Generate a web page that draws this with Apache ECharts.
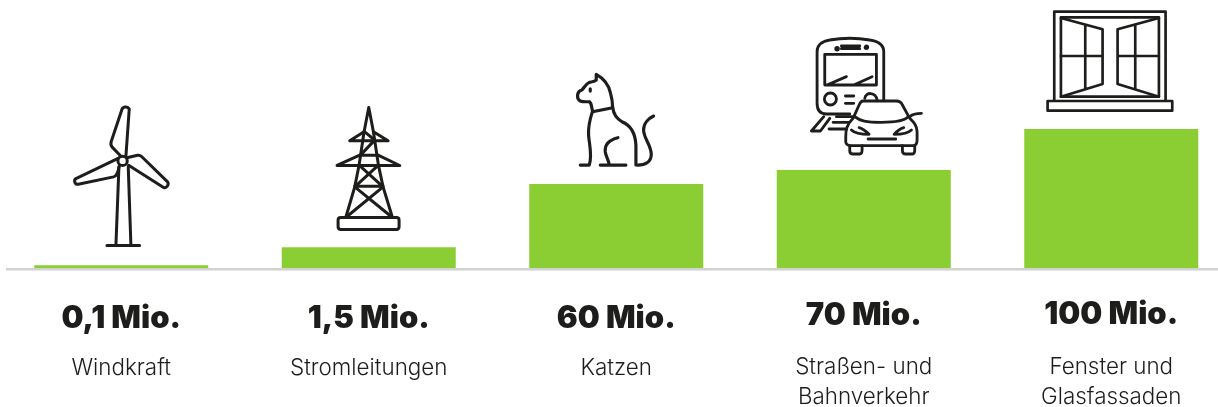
<!DOCTYPE html>
<html>
<head>
<meta charset="utf-8">
<style>html,body{margin:0;padding:0;background:#fff}#c{width:1218px;height:407px}</style>
<script src="https://cdn.jsdelivr.net/npm/echarts@6/dist/echarts.min.js"></script>
</head>
<body>
<div id="c"></div>
<script>
const categories = ['Windkraft', 'Stromleitungen', 'Katzen', 'Straßen- und\nBahnverkehr', 'Fenster und\nGlasfassaden'];
const valueLabels = ['0,1 Mio.', '1,5 Mio.', '60 Mio.', '70 Mio.', '100 Mio.'];
// Bar heights as drawn in the picture (the two smallest bars are drawn larger than their stated values).
const barValues = [2, 15, 60.4, 70.5, 100];
const valueLabelShift = [0, 0, 0, -3, -4];

const INK = '#1d1d1b', GREEN = '#8bce33', AXIS = '#d2d2d0';
const VALUE_FONT = 'Inter', NAME_FONT = 'Inter';

// Icons: paths in a 3x drawing space; origin places them relative to (bar centre, bar top).
const icons = [
  { origin: [-61, -165], lw: 9, parts: [
    { d: 'M187 168a14 14 0 1 0 0.01 0Z' },
    { d: 'M180 166L155 140C151 135 151 130 153 124L185 28C187 20 200 17 207 26L197 168' },
    { d: 'M203 172L232 165C238 164 241 166 244 169L322 245C327 252 320 265 310 262L205 195' },
    { d: 'M172 175L47 235C40 240 43 254 54 252L160 230C168 228 172 222 177 198' },
    { d: 'M176 200L167 435M204 200L212 435M140 436L238 436' }
  ]},
  { origin: [-49, -147], lw: 9, parts: [
    { d: 'M147 22L133 95L118 195L105 260L78 352M147 22L161 95L176 195L190 260L218 352' },
    { d: 'M90 122L205 122M90 122L133 95M205 122L161 95M135 95L165 120M165 120L122 165' },
    { d: 'M52 196L240 196M52 196L120 165M240 196L175 165M120 165L176 165' },
    { d: 'M118 195L190 260M176 195L105 260M105 258L190 258M105 260L218 352M190 260L78 352M78 352L218 352' },
    { d: 'M63 352L230 352C236 352 238 356 238 360L238 380C238 385 235 388 230 388L63 388C58 388 55 385 55 380L55 360C55 356 58 352 63 352Z' }
  ]},
  { origin: [-51, -119], lw: 9.5, parts: [
    { d: 'M45 300L72 300C82 270 72 240 70 210C68 180 75 160 82 138C78 125 80 115 72 110C62 110 52 111 45 108C32 100 35 78 50 75C58 66 62 56 72 52C80 50 88 50 93 45L93 28C115 40 130 55 136 85C140 100 142 112 142 125C145 150 155 160 170 170C195 180 210 200 212 240L212 300C240 302 258 290 258 268C258 240 235 220 235 195C235 175 250 160 265 153' },
    { d: 'M82 140L142 128M158 218C130 225 118 240 120 260C122 275 130 285 132 298M105 300L182 300M75 71L75 78' }
  ]},
  { origin: [-64, -135], lw: 8.5, parts: [
    { d: 'M35 288L72 245M35 288L62 288L90 250M110 245L165 245M100 262L160 262M88 282L140 282' },
    { d: 'M252 195L252 50C252 25 230 18 210 15C170 8 130 8 90 15C75 17 52 25 52 50L52 205C52 225 60 237 80 237L150 237', fill: '#fff' },
    { d: 'M75 58L230 58L230 150L75 150ZM82 150L140 125M162 150L217 125M125 33L180 33M125 41L180 41' },
    { d: 'M112 37a4 4 0 1 0 0.01 0ZM200 33a4 4 0 1 0 0.01 0ZM92 174a18 18 0 1 0 0.01 0Z', },
    { d: 'M137 183L162 183M137 205L162 205M195 190C198 170 228 170 232 195' },
    { d: 'M190 198L290 198C298 198 305 203 308 210L330 250C342 262 352 272 352 290L352 315C352 325 350 332 340 332L150 332C145 332 138 327 138 320L138 305C138 285 140 270 160 250L178 210C181 203 185 198 190 198Z', fill: '#fff' },
    { d: 'M165 245C180 258 200 262 245 262C290 262 315 258 325 245M330 245C338 237 345 235 365 235' },
    { d: 'M155 285C165 295 190 298 208 298C195 285 185 280 178 278M335 285C325 295 300 298 283 298C295 285 305 280 312 278M205 312L288 312' },
    { d: 'M150 332L150 347C150 355 155 357 160 357L180 357C185 357 187 352 187 345L187 332M308 332L308 347C308 355 313 357 318 357L338 357C343 357 345 352 345 345L345 332' }
  ]},
  { origin: [-101, -129], lw: 8, parts: [
    { d: 'M132 302L132 35L466 35L466 302' },
    { d: 'M152 52L446 52L446 290L152 290Z' },
    { d: 'M112 303L486 303L486 332L112 332Z' },
    { d: 'M152 54L277 88L277 252L152 290M225 75L225 268M152 168L277 168' },
    { d: 'M446 54L322 88L322 252L446 290M375 75L375 268M322 168L446 168' }
  ]}
];
icons.forEach((ic, i) => ic.parts.forEach((p, j) => {
  p.type = 'icon' + i + '_' + j;
  echarts.graphic.registerShape(p.type, echarts.graphic.extendPath(p.d));
}));

const chart = echarts.init(document.getElementById('c'), null, { renderer: 'canvas' });

function renderIconAndValue(params, api) {
  const i = api.value(0);
  const top = api.coord([i, api.value(1)]);
  const base = api.coord([i, 0]);
  const ic = icons[i];
  const children = ic.parts.map(p => ({
    type: p.type,
    shape: {},
    style: { fill: p.fill || 'none', stroke: INK, lineWidth: ic.lw, lineCap: 'round', lineJoin: 'round' }
  }));
  return {
    type: 'group',
    children: [
      { type: 'group', x: top[0] + ic.origin[0], y: top[1] + ic.origin[1], scaleX: 1 / 3, scaleY: 1 / 3, children },
      { type: 'text', style: {
          text: valueLabels[i], x: base[0], y: base[1] + 50.5 + valueLabelShift[i],
          align: 'center', verticalAlign: 'middle',
          fontFamily: VALUE_FONT, fontWeight: 900, fontSize: 31, fill: INK } }
    ]
  };
}

chart.setOption({
  animation: false,
  backgroundColor: '#fff',
  grid: { left: -2.5, width: 1237.5, top: 129, height: 139, containLabel: false, outerBoundsMode: 'none' },
  xAxis: {
    type: 'category',
    data: categories,
    axisLine: { show: false },
    axisTick: { show: false },
    axisLabel: {
      interval: 0, margin: 84, verticalAlign: 'top', align: 'center',
      formatter: v => v.includes('\n')
        ? v.split('\n').map(s => '{two|' + s + '}').join('\n')
        : '{one|' + v + '}',
      rich: {
        one: { fontFamily: NAME_FONT, fontWeight: 300, fontSize: 22.4, lineHeight: 30, color: INK, padding: [3, 0, 0, 0] },
        two: { fontFamily: NAME_FONT, fontWeight: 300, fontSize: 22.4, lineHeight: 30, color: INK }
      }
    }
  },
  yAxis: { type: 'value', min: 0, max: 100, show: false, splitLine: { show: false } },
  graphic: [{ type: 'rect', silent: true, z: 1, shape: { x: 6, y: 268, width: 1212, height: 2.5 }, style: { fill: AXIS } }],
  series: [
    { type: 'bar', data: barValues, barWidth: 174, itemStyle: { color: GREEN }, z: 2 },
    { type: 'custom', clip: false, z: 3, renderItem: renderIconAndValue,
      encode: { x: 0, y: 1 }, data: barValues.map((v, i) => [i, v]) }
  ]
});
</script>
</body>
</html>
